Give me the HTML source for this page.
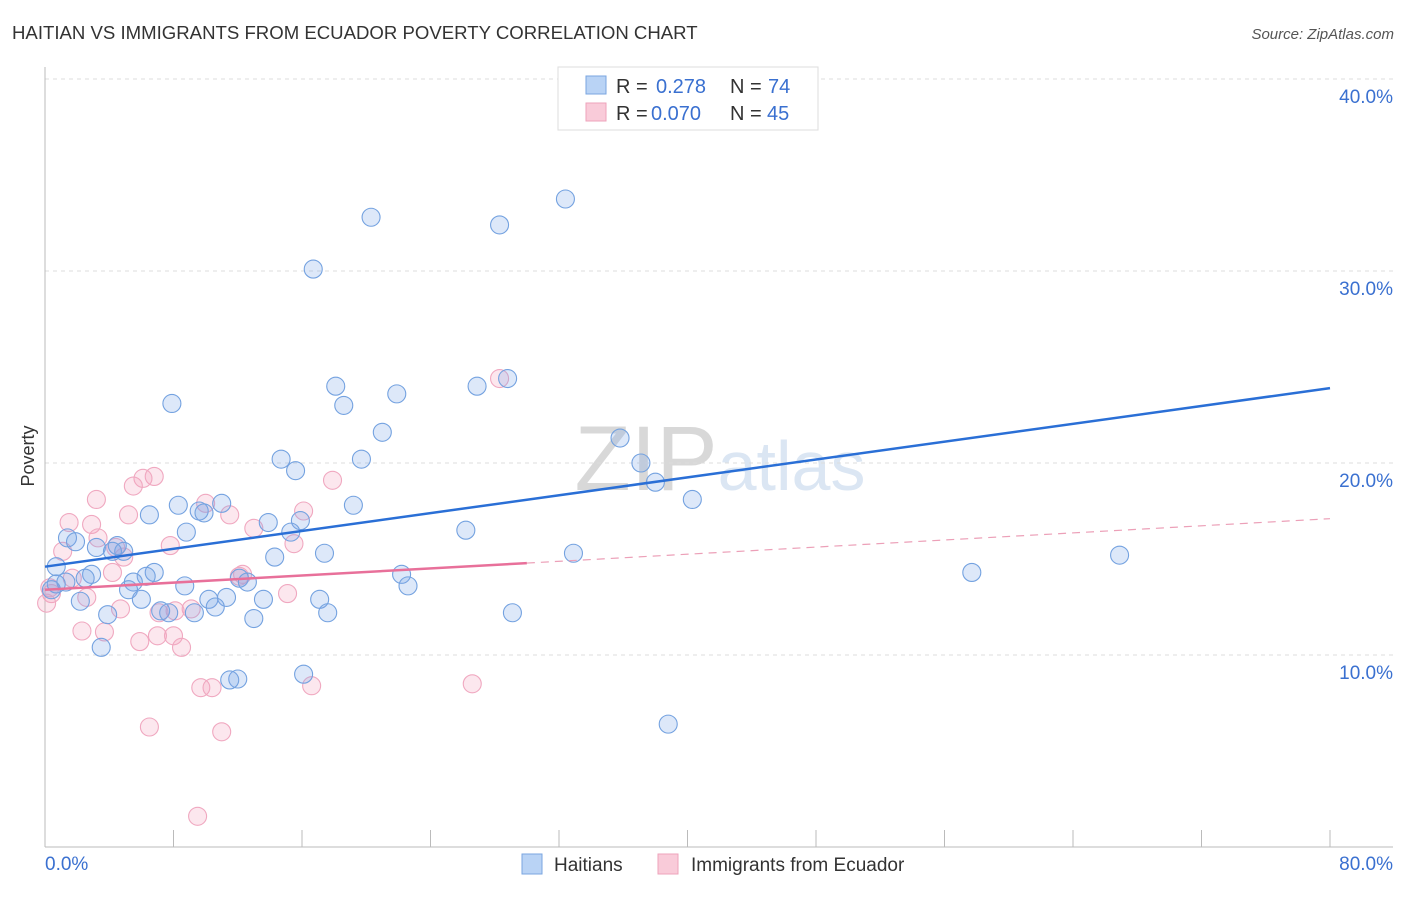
<!DOCTYPE html>
<html><head><meta charset="utf-8"><style>
body{margin:0;background:#fff;font-family:"Liberation Sans",sans-serif}
svg text{font-family:"Liberation Sans",sans-serif}
</style></head><body>
<svg width="1406" height="892" id="c">
<text x="12" y="39" font-size="18.6" fill="#333">HAITIAN VS IMMIGRANTS FROM ECUADOR POVERTY CORRELATION CHART</text>
<text x="1394" y="39" font-size="15" fill="#555" font-style="italic" text-anchor="end">Source: ZipAtlas.com</text>
<text x="720" y="490" font-size="92" fill="#e4e4e4" text-anchor="middle" font-family="Liberation Serif"><tspan fill="#d8d8d8">ZIP</tspan><tspan fill="#dbe6f3" font-family="Liberation Sans" font-size="70">atlas</tspan></text>
<g id="grid"></g>
<line x1="45" y1="67" x2="45" y2="847" stroke="#bbb"/>
<line x1="45" y1="847" x2="1393" y2="847" stroke="#bbb"/>
<text x="34" y="456" font-size="18" fill="#333" transform="rotate(-90 34 456)" text-anchor="middle">Poverty</text>
<text x="45" y="870" font-size="19" fill="#3a70d0">0.0%</text>
<text x="1393" y="870" font-size="19" fill="#3a70d0" text-anchor="end">80.0%</text>
<g id="pts"></g>
<g id="lines"></g>
<g>
<rect x="558" y="67" width="260" height="63" fill="#fff" stroke="#ddd"/>
<rect x="586" y="76" width="20" height="18" fill="#b9d3f5" stroke="#7aa6e0"/>
<rect x="586" y="103" width="20" height="18" fill="#f9cbd9" stroke="#eea3bb"/>
<text x="616" y="93" font-size="20" fill="#333">R = <tspan x="656" fill="#3a70d0">0.278</tspan><tspan x="730">N = </tspan><tspan x="768" fill="#3a70d0">74</tspan></text>
<text x="616" y="120" font-size="20" fill="#333">R = <tspan x="651" fill="#3a70d0">0.070</tspan><tspan x="730">N = </tspan><tspan x="767" fill="#3a70d0">45</tspan></text>
</g>
<g>
<rect x="522" y="854" width="20" height="20" fill="#b9d3f5" stroke="#7aa6e0"/>
<text x="554" y="871" font-size="19" fill="#333">Haitians</text>
<rect x="658" y="854" width="20" height="20" fill="#f9cbd9" stroke="#eea3bb"/>
<text x="691" y="871" font-size="19" fill="#333">Immigrants from Ecuador</text>
</g>
</svg>
<script>
const yTicks=[10,20,30,40];
const xTicks=[0,8,16,24,32,40,48,56,64,72,80];
const haitianX=[32.4,20.3,28.3,16.7,28.8,26.9,18.1,21.9,18.6,7.9,21.0,35.8,14.7,19.7,37.1,15.6,38.0,40.3,11.0,8.3,19.2,9.6,9.9,6.5,13.9,15.9,26.2,8.8,15.3,1.4,1.9,3.2,4.5,4.9,4.2,32.9,66.9,17.4,14.3,0.7,57.7,6.8,2.9,6.3,22.2,2.5,12.1,1.3,12.6,5.5,0.7,8.7,22.6,0.4,5.2,6.0,2.2,10.2,11.3,13.6,17.1,10.6,7.2,9.3,7.7,17.6,29.1,3.9,13.0,3.5,16.1,12.0,11.5,38.8];
const haitianY=[33.75,32.8,32.4,30.1,24.4,24.0,24.0,23.6,23.0,23.1,21.6,21.3,20.2,20.2,20.0,19.6,19.0,18.1,17.9,17.8,17.8,17.5,17.4,17.3,16.9,17.0,16.5,16.4,16.4,16.1,15.9,15.6,15.7,15.4,15.4,15.3,15.2,15.3,15.1,14.6,14.3,14.3,14.2,14.1,14.2,14.0,14.0,13.8,13.8,13.8,13.7,13.6,13.6,13.4,13.4,12.9,12.8,12.9,13.0,12.9,12.9,12.5,12.3,12.2,12.2,12.2,12.2,12.1,11.9,10.4,9.0,8.75,8.7,6.4];
const ecuadorX=[28.3,6.8,6.1,5.5,17.9,3.2,10.0,11.5,5.2,16.1,1.5,2.9,3.3,13.0,15.5,7.8,1.1,4.4,4.9,4.2,12.3,1.7,12.1,0.3,0.4,2.6,0.1,4.7,15.1,9.1,8.1,7.1,2.3,3.7,7.0,8.0,5.9,8.5,9.7,10.4,16.6,26.6,6.5,11.0,9.5];
const ecuadorY=[24.4,19.3,19.2,18.8,19.1,18.1,17.9,17.3,17.3,17.5,16.9,16.8,16.1,16.6,15.8,15.7,15.4,15.6,15.1,14.3,14.2,14.0,14.1,13.5,13.2,13.0,12.7,12.4,13.2,12.4,12.3,12.2,11.25,11.2,11.0,11.0,10.7,10.4,8.3,8.3,8.4,8.5,6.25,6.0,1.6];
const haitianTrend=[14.6,23.9];
const ecuadorTrend=[13.4,17.1];
const ecuadorSolidEnd=30;
const X=v=>45+v*(1285/80), Y=v=>847-v*19.2;
const NS='http://www.w3.org/2000/svg';
function mk(t,a,p){const e=document.createElementNS(NS,t);for(const k in a)e.setAttribute(k,a[k]);p.appendChild(e);return e;}
const g=document.getElementById('grid');
yTicks.forEach(t=>{
 const l=mk('line',{x1:45,x2:1393,y1:Y(t),y2:Y(t),stroke:'#ddd','stroke-dasharray':'4,4'},g);
 
 
 const tx=mk('text',{x:1393,y:Y(t)+24,'font-size':19,fill:'#3a70d0','text-anchor':'end'},g);
 tx.textContent=t.toFixed(1)+'%';
 
 
});
xTicks.forEach(t=>{
 const l=mk('line',{x1:X(t),x2:X(t),y1:830,y2:847,stroke:'#bbb'},g);
 
 
});
const p=document.getElementById('pts');
ecuadorX.forEach((x,i)=>{
 const c=mk('circle',{cx:X(x),cy:Y(ecuadorY[i]),r:9,fill:'rgba(243,160,188,0.25)',stroke:'#f0a8c0','stroke-width':1.1},p);
 
 
});
haitianX.forEach((x,i)=>{
 const c=mk('circle',{cx:X(x),cy:Y(haitianY[i]),r:9,fill:'rgba(120,165,230,0.25)',stroke:'#74a2e0','stroke-width':1.1},p);
 
 
});
const L=document.getElementById('lines');
const b=mk('line',{x1:X(0),y1:Y(haitianTrend[0]),x2:X(80),y2:Y(haitianTrend[1]),stroke:'#2a6fd6','stroke-width':2.5},L);


const ey=x=>ecuadorTrend[0]+(ecuadorTrend[1]-ecuadorTrend[0])*x/80;
const s=mk('line',{x1:X(0),y1:Y(ey(0)),x2:X(ecuadorSolidEnd),y2:Y(ey(ecuadorSolidEnd)),stroke:'#e8709a','stroke-width':2.5},L);


const d=mk('line',{x1:X(ecuadorSolidEnd),y1:Y(ey(ecuadorSolidEnd)),x2:X(80),y2:Y(ey(80)),stroke:'#eca0b8','stroke-width':1.2,'stroke-dasharray':'8,6'},L);


</script>
</body></html>
